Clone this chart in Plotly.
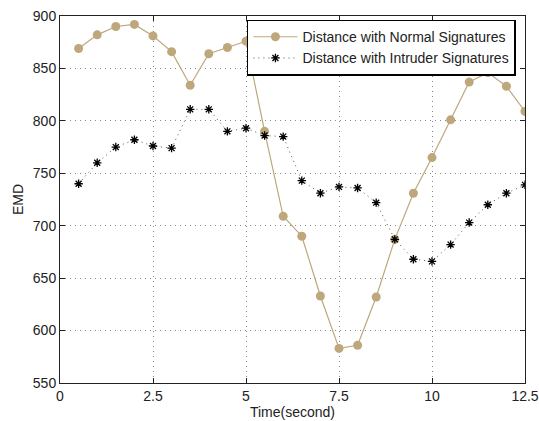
import plotly.graph_objects as go

time_s = [0.5, 1, 1.5, 2, 2.5, 3, 3.5, 4, 4.5, 5, 5.5, 6, 6.5, 7, 7.5, 8, 8.5, 9, 9.5, 10, 10.5, 11, 11.5, 12, 12.5]
normal = [869, 882, 890, 892, 881, 866, 834, 864, 870, 876, 790, 709, 690, 633, 583, 586, 632, 687, 731, 765, 801, 837, 846, 833, 809]
intruder = [740, 760, 775, 782, 776, 774, 811, 811, 790, 793, 786, 785, 743, 731, 737, 736, 722, 687, 668, 666, 682, 703, 720, 731, 739]
x_ticks = [0, 2.5, 5, 7.5, 10, 12.5]
x_tick_labels = ["0", "2.5", "5", "7.5", "10", "12.5"]
y_ticks = [550, 600, 650, 700, 750, 800, 850, 900]

FONT = "Liberation Sans, Arial, Helvetica"

fig = go.Figure()
fig.add_trace(go.Scatter(
    x=time_s, y=normal, mode="lines+markers", name="Distance with Normal Signatures",
    line=dict(color="#BFA77C", width=1.2),
    marker=dict(color="#BFA77C", size=9, symbol="circle"),
))
fig.add_trace(go.Scatter(
    x=time_s, y=intruder, mode="lines+markers", name="Distance with Intruder Signatures",
    line=dict(color="#555555", width=1, dash="1px,4px"),
    marker=dict(color="black", size=7, symbol="asterisk-open", line=dict(color="#111111", width=1.3)),
))

axis_common = dict(
    showline=True, linecolor="#222222", linewidth=1, mirror="ticks",
    ticks="inside", ticklen=5, tickcolor="#222222",
    showgrid=True, gridcolor="#888888", griddash="1px,4px", gridwidth=1,
    zeroline=False, automargin=False,
    tickfont=dict(family=FONT, size=14, color="#222"),
)
fig.update_xaxes(range=[0, 12.5], tickvals=x_ticks, ticktext=x_tick_labels,
                 title=dict(text="Time(second)", standoff=0, font=dict(family=FONT, size=14, color="#222")),
                 **axis_common)
fig.update_yaxes(range=[550, 900], tickvals=y_ticks,
                 title=dict(text="EMD", standoff=5, font=dict(family=FONT, size=14, color="#222")),
                 **axis_common)

fig.update_layout(
    width=539, height=421,
    margin=dict(l=60, r=14, t=16, b=38),
    paper_bgcolor="white", plot_bgcolor="white",
    showlegend=True,
    legend=dict(x=0.402, y=0.99, xanchor="left", yanchor="top",
                bgcolor="white", bordercolor="black", borderwidth=1.5,
                font=dict(family=FONT, size=14, color="#222"),
                tracegroupgap=0, itemwidth=44),
)
fig.write_html("out.html", config={"displayModeBar": False},
               post_script="document.body.style.margin='0';")
